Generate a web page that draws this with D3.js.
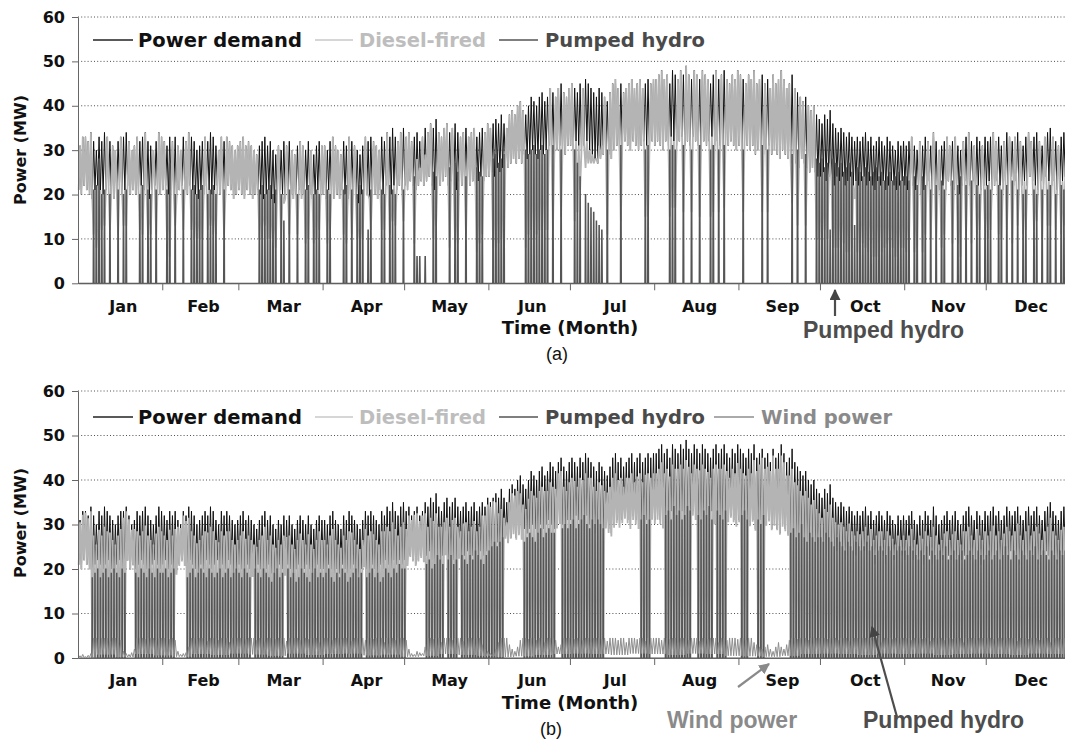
<!DOCTYPE html>
<html><head><meta charset="utf-8">
<script src="https://cdn.jsdelivr.net/npm/d3@7"></script>
<style>body{margin:0;background:#fff}svg{display:block}</style>
</head><body>
<svg id="chart" width="1065" height="747"></svg>
<script>
// ---------------- DATA ----------------
const months = ["Jan","Feb","Mar","Apr","May","Jun","Jul","Aug","Sep","Oct","Nov","Dec"];
const monthStarts = [0,31,59,90,120,151,181,212,243,273,304,334,365];
const yTicks = [0,10,20,30,40,50,60];
const seriesNames = ["Power demand","Diesel-fired","Pumped hydro","Wind power"];

// daily peak of power demand (MW)
const demandPeak = [
 31,33,33,32,34,32,30,33,32,34,33,32,31,30,32,33,33,34,32,30,31,33,32,33,34,32,31,30,32,34,33,
 32,31,33,32,33,31,30,33,32,34,33,32,30,31,32,33,32,34,33,31,30,33,32,33,32,31,30,31,
 32,33,31,32,31,30,29,31,32,33,31,32,30,29,31,30,32,31,32,30,29,31,32,31,30,32,30,29,31,32,31,
 31,30,32,33,31,30,29,32,31,33,32,31,30,29,31,33,32,33,32,31,30,33,32,34,33,35,33,32,34,35,
 33,34,32,33,34,32,33,35,34,36,35,37,34,33,35,36,34,35,36,34,33,34,35,33,34,35,33,34,35,34,36,
 35,36,37,36,38,36,35,38,39,38,40,41,39,38,40,42,41,40,42,43,41,42,44,43,42,44,45,43,42,44,
 45,44,43,45,44,46,45,44,43,42,44,43,42,41,43,45,46,44,45,43,44,45,46,44,45,46,44,45,46,45,46,
 46,47,48,46,47,45,48,47,46,48,47,49,47,46,48,47,46,48,47,46,45,47,48,46,47,48,46,45,47,46,48,
 47,46,45,47,46,48,45,46,47,45,46,44,47,45,46,48,46,44,45,47,44,43,42,41,42,40,39,40,38,37,
 36,38,37,39,36,35,34,35,34,33,34,33,32,33,32,33,34,32,33,31,32,33,32,31,33,32,31,30,32,31,32,
 31,32,33,31,30,32,31,33,32,31,34,32,30,31,32,33,31,32,33,31,30,32,33,34,32,31,33,32,31,33,
 32,33,34,32,33,31,32,34,33,32,33,34,32,31,33,34,32,33,34,32,31,33,34,35,33,32,31,33,34,33,34
];
// daily night-time low of power demand (MW)
const demandLow = [
 21,20,22,21,20,19,21, 22,21,20,21,22,20,19, 21,22,20,21,22,20,21, 20,21,22,21,20,19,21, 22,21,20,
 21,22,20,21,20,19,21, 22,21,20,22,21,20,19, 21,20,22,21,20,21,22, 20,21,20,22,21,19,20,
 21,20,19,21,20,19,20, 21,20,19,20,21,19,18, 20,21,20,19,21,20,19, 20,21,19,20,21,20,19, 20,21,20,
 20,19,21,20,19,20,19, 21,20,19,20,21,19,18, 20,21,20,19,21,20,19, 21,20,22,21,20,22,21, 22,21,
 22,21,23,22,21,22,23, 22,23,24,22,21,23,22, 23,24,22,23,22,21,23, 22,23,24,22,23,22,23, 24,23,24,
 24,25,24,26,25,26,27, 26,27,28,27,28,27,29, 28,29,30,29,28,30,29, 30,31,30,29,30,31,30, 29,31,
 31,30,32,31,30,31,32, 30,29,28,27,28,29,30, 29,28,30,31,30,31,32, 31,30,32,31,30,31,32, 31,30,32,
 31,32,31,30,32,31,33, 32,31,32,33,31,32,31, 33,32,31,30,32,31,32, 33,31,32,31,30,32,31, 32,31,30,
 31,30,32,31,30,31,29, 30,31,29,30,31,29,30, 29,28,30,29,28,27,28, 27,26,28,27,26,25,26, 25,24,
 24,25,23,24,23,22,24, 23,24,22,23,24,22,23, 22,23,24,22,23,22,21, 23,22,23,21,22,23,22, 21,22,23,
 22,21,23,22,21,22,20, 21,22,23,21,22,20,21, 22,21,23,22,21,22,20, 22,23,21,22,23,21,22, 21,22,
 22,23,21,22,23,22,21, 23,22,24,22,23,21,22, 23,22,24,23,22,21,23, 22,24,23,22,23,21,22, 23,24,22
];
// (a) pumped hydro output events: [day, MW]
const phEventsA = [
 [5,21],[6,22],[7,28],[8,20],[9,21],[11,20],[14,21],[16,20],[17,21],[22,20],[23,22],[25,21],[26,20],[28,21],
 [32,21],[33,27],[35,20],[38,21],[41,21],[42,22],[43,20],[44,21],[45,22],[47,20],[48,21],[49,22],[50,20],[53,21],
 [66,21],[67,22],[68,20],[69,21],[70,22],[71,20],[72,21],[74,20],[75,14],[77,21],[80,20],[83,21],[84,22],[86,20],[87,21],[88,20],
 [91,21],[92,20],[97,21],[98,22],[100,21],[102,20],[103,22],[104,21],[106,12],[107,21],[111,21],[112,20],[114,22],[115,21],[116,20],[119,21],
 [123,24],[124,6],[125,6],[127,6],[130,25],[131,24],[136,26],[138,27],[139,25],[142,24],[146,26],[147,25],[148,24],
 [152,28],[153,29],[154,27],[155,28],[156,29],[164,30],[165,29],[166,30],[167,31],[168,29],[169,30],[170,31],[171,29],[172,30],[174,31],[177,30],
 [182,30],[183,27],[184,24],[186,20],[187,18],[188,17],[189,16],[190,14],[191,13],[192,12],[194,30],[199,31],[208,30],[209,31],
 [217,30],[218,31],[219,30],[222,31],[225,30],[228,31],[232,30],[233,31],[235,30],[237,31],
 [244,30],[251,31],[253,30],[262,29],[264,30],[267,29],[271,28],
 [272,27],[273,28],[274,26],[275,27],[276,12],[277,28],[278,27],[279,26],[280,27],[281,25],[282,26],[283,27],[284,25],[285,13],[286,26],[287,25],
 [288,24],[289,26],[290,25],[291,24],[292,25],[293,26],[294,24],[295,25],[296,23],[297,24],[298,25],[299,23],[300,24],[301,25],[302,23],[303,24],
 [304,24],[305,23],[307,24],[308,22],[310,24],[311,22],[313,21],[315,22],[317,23],[318,21],
 [321,23],[323,22],[324,24],[326,22],[328,23],[330,22],[331,20],[333,21],
 [334,22],[335,21],[338,22],[339,21],[341,22],[343,23],[345,21],[347,20],[348,21],
 [351,21],[352,20],[354,21],[356,21],[357,22],[359,20],[361,22],[362,21],[364,22]
];
// (b) pumped hydro output per day (MW, 0 = idle)
const phDailyB = [
 0,0,0,0,0,18,19,20,18,19,20,18,19,20,19,18,20,19,0,0,0,19,18,20,19,18,20,19,18,20,19,
 19,20,18,19,20,0,0,0,0,18,19,20,18,19,20,19,18,20,19,18,19,20,18,19,20,18,19,20,
 19,18,20,19,18,0,20,19,18,20,19,18,17,19,20,18,19,0,20,18,19,17,18,20,19,18,17,19,20,18,19,
 18,19,20,18,17,19,18,20,19,17,18,19,20,18,19,0,18,19,20,18,19,17,18,20,19,18,20,19,21,20,
 20,0,0,0,0,0,0,0,21,22,20,21,23,22,21,0,22,23,21,22,0,23,22,21,23,22,24,23,22,21,23,
 24,25,26,25,26,27,0,0,0,0,0,0,0,26,27,28,27,26,28,29,27,28,29,28,28,0,0,29,30,29,
 30,31,29,30,31,32,30,29,31,30,31,30,29,0,0,0,0,0,0,0,0,0,0,0,0,0,31,32,30,31,0,
 0,0,0,0,32,33,31,34,32,33,31,32,34,33,0,0,32,31,33,32,34,31,0,33,32,31,33,0,0,0,0,
 0,32,33,31,0,0,0,31,30,32,0,0,0,0,0,0,0,0,0,28,29,27,28,30,27,26,28,27,26,27,
 27,26,28,27,26,25,27,26,25,24,26,25,24,26,25,24,25,26,24,25,23,24,25,24,23,25,24,23,24,25,24,
 24,23,25,24,23,22,24,23,25,22,24,23,22,24,23,25,22,23,24,22,23,24,22,23,24,23,22,24,23,22,
 23,24,22,23,24,22,23,25,23,22,24,23,22,24,23,22,24,23,25,22,23,24,23,22,24,23,22,24,23,24,23
];
// (b) daily peak wind power (MW)
const windPeak = [
 0.5,0.8,0.3,0.6,1.0,4.5,4.5,4.2,4.5,4.5,4.5,3.8,4.5,4.5,4.5,4.0,1.5,1.0,0.8,1.2,2.0,4.5,4.5,4.5,4.2,4.5,4.5,4.5,4.0,4.5,4.5,
 4.5,4.5,4.2,4.5,4.0,1.5,0.8,1.0,1.2,2.5,4.5,4.5,4.2,4.5,4.5,4.5,3.8,4.5,4.5,4.5,4.0,4.5,4.5,4.5,3.5,4.5,4.5,4.5,
 4.5,4.5,4.2,4.5,4.5,4.5,4.0,4.5,4.5,3.5,4.5,4.5,4.5,4.2,4.5,4.5,4.5,3.8,4.5,4.5,4.5,4.5,4.0,4.5,4.5,4.2,4.5,4.5,4.5,3.5,4.5,
 4.5,4.5,4.5,4.0,4.5,4.5,4.2,4.5,4.5,4.5,3.8,4.5,4.5,4.5,4.5,4.0,4.5,4.5,4.2,4.5,4.5,4.5,3.5,4.5,4.5,4.5,4.0,4.5,4.5,4.5,
 4.0,2.0,1.0,0.8,1.5,1.2,1.0,2.5,4.5,4.5,4.2,4.5,4.5,3.5,4.5,4.5,4.5,4.0,4.5,4.5,4.5,3.8,4.5,4.5,4.5,4.2,4.5,4.5,3.0,2.0,1.5,
 1.0,0.8,2.0,3.5,4.5,4.5,4.5,3.0,2.0,1.5,2.5,4.0,4.5,4.5,4.2,4.5,4.5,4.0,4.5,4.5,3.5,4.5,4.5,4.5,4.0,2.5,3.0,4.5,4.5,4.5,
 4.5,4.2,4.5,4.5,4.0,4.5,4.5,3.5,4.5,4.5,4.5,4.2,4.5,3.8,4.5,4.5,4.5,4.0,4.5,4.5,3.5,4.5,4.5,4.5,4.2,4.5,4.5,3.8,4.5,4.5,4.5,
 4.5,4.5,4.0,4.5,4.5,4.2,4.5,4.5,3.5,4.5,4.5,4.5,4.0,4.5,4.5,4.5,3.8,4.5,4.5,4.2,4.5,4.5,4.5,3.5,4.5,4.5,4.0,4.5,4.5,4.5,4.2,
 4.5,4.5,4.0,4.5,4.5,3.5,3.0,2.5,2.0,2.5,3.0,2.0,1.5,2.5,3.5,2.5,2.0,3.0,4.0,4.5,4.5,4.2,4.5,4.5,4.5,4.0,4.5,4.5,4.5,4.5,
 4.5,4.5,4.2,4.5,4.5,4.5,4.0,4.5,4.5,4.5,3.8,4.5,4.5,4.5,4.2,4.5,4.5,4.5,4.0,4.5,4.5,4.5,3.5,4.5,4.5,4.5,4.2,4.5,4.5,4.5,4.5,
 4.5,4.5,4.0,4.5,4.5,4.5,4.2,4.5,4.5,3.8,4.5,4.5,4.5,4.5,4.0,4.5,4.5,4.2,4.5,4.5,4.5,3.5,4.5,4.5,4.5,4.5,4.0,4.5,4.5,4.5,
 4.5,4.5,4.2,4.5,4.5,4.5,4.0,4.5,4.5,4.5,4.5,3.8,4.5,4.5,4.5,4.2,4.5,4.5,4.5,4.0,4.5,4.5,4.5,3.5,4.5,4.5,4.5,4.2,4.5,4.5,4.5
];
// (b) weekly low of wind power (MW)
const windLowWeekly = [
 0.1,0.8,0.2,0.9,0.6, 0.3,0.9,0.7,1.0, 0.8,0.5,1.0,0.7, 0.9,1.0,0.6,0.8, 0.3,0.5,0.9,0.7,0.5, 0.2,0.4,0.7,0.9,
 1.0,0.9,0.7,1.0, 0.9,0.7,1.0,0.9,0.5, 0.4,0.3,0.5,0.9, 1.0,0.9,0.7,1.0,0.9, 1.0,0.7,0.9,1.0, 0.9,0.7,1.0,0.9,0.6
];

// ---------------- BUILD SERIES ----------------
const nDays = demandPeak.length;
const phA = new Array(nDays).fill(0);
phEventsA.forEach(([d,v]) => { phA[d] = v; });
const wLowAt = d => windLowWeekly[Math.floor(d/7)];

const demandPts = [], dieselA = [], phAPts = [[0,0]], dieselB = [], windB = [], phBPts = [[0,0]];
for (let d = 0; d < nDays; d++) {
  const lo = demandLow[d], pk = demandPeak[d];
  demandPts.push([d+0.25, lo], [d+0.75, pk]);
  // panel (a): pumped hydro discharges at the evening peak, diesel covers the rest
  dieselA.push([d+0.25, lo], [d+0.75, Math.max(0, pk - phA[d])]);
  if (phA[d] > 0) phAPts.push([d+0.56,0],[d+0.68,phA[d]],[d+0.82,phA[d]],[d+0.94,0]);
  // panel (b): wind + pumped hydro, diesel covers the rest
  const wl = wLowAt(d), wp = windPeak[d], pb = phDailyB[d];
  windB.push([d+0.25, wl], [d+0.75, wp]);
  dieselB.push([d+0.25, Math.max(0, lo - wl - pb)], [d+0.75, Math.max(0, pk - wp)]);
  if (pb > 0) phBPts.push([d+0.1,0],[d+0.2,pb],[d+0.3,pb],[d+0.4,0]);
}
phAPts.push([nDays,0]); phBPts.push([nDays,0]);

// ---------------- DRAW ----------------
const svg = d3.select("#chart");
const x = d3.scaleLinear().domain([0,365]).range([78,1070]);
const LEFT = 78, RIGHT = 1065;
const colors = {demand:"#111111", diesel:"#b4b4b4", ph:"#555555", wind:"#8e8e8e"};
const monthMids = months.map((m,i) => (monthStarts[i]+monthStarts[i+1])/2 + 1);

function drawPanel(cfg) {
  const y = d3.scaleLinear().domain([0,60]).range([cfg.y0, cfg.y60]);
  const g = svg.append("g");
  g.selectAll("line.grid").data(yTicks.slice(1)).join("line")
    .attr("x1", LEFT).attr("x2", RIGHT).attr("y1", d=>y(d)).attr("y2", d=>y(d))
    .attr("stroke","#3a3a3a").attr("stroke-width",0.9).attr("stroke-dasharray","1,2.2");
  const line = d3.line().x(p=>x(p[0])).y(p=>y(p[1]));
  g.append("path").datum(demandPts).attr("d", line).attr("fill","none")
    .attr("stroke", colors.demand).attr("stroke-width", 1);
  g.append("path").datum(cfg.diesel).attr("d", line).attr("fill","none")
    .attr("stroke", colors.diesel).attr("stroke-width", 1.8);
  g.append("path").datum(cfg.ph).attr("d", line).attr("fill","none")
    .attr("stroke", colors.ph).attr("stroke-width", 1.2);
  if (cfg.wind) g.append("path").datum(cfg.wind).attr("d", line).attr("fill","none")
    .attr("stroke", colors.wind).attr("stroke-width", 1.0);

  const yAxis = d3.axisLeft(y).tickValues(yTicks).tickSize(6).tickSizeOuter(0).tickPadding(7);
  const ya = g.append("g").attr("transform", `translate(${LEFT},0)`).call(yAxis);
  ya.select(".domain").attr("stroke","#666");
  ya.selectAll(".tick line").attr("stroke","#666");
  ya.selectAll("text").attr("font-family","DejaVu Sans").attr("font-weight","bold")
    .attr("font-size","16px").attr("fill","#111");

  const xAxis = d3.axisBottom(x).tickValues(monthStarts.slice(1,12)).tickSize(7).tickSizeOuter(0).tickFormat("");
  const xa = g.append("g").attr("transform", `translate(0,${cfg.y0})`).call(xAxis);
  xa.select(".domain").attr("stroke","#666");
  xa.selectAll(".tick line").attr("stroke","#666");

  const xLab = d3.axisBottom(x).tickValues(monthMids).tickSize(0).tickPadding(17)
    .tickFormat((d,i)=>months[i]);
  const xl = g.append("g").attr("transform", `translate(0,${cfg.y0})`).call(xLab);
  xl.select(".domain").remove();
  xl.selectAll("text").attr("font-family","DejaVu Sans").attr("font-weight","bold")
    .attr("font-size","16px").attr("fill","#111");

  g.append("text").attr("transform", `translate(26,${cfg.yTitle}) rotate(-90)`)
    .attr("text-anchor","middle").attr("font-family","DejaVu Sans").attr("font-weight","bold")
    .attr("font-size","16px").attr("fill","#111").text("Power (MW)");
  g.append("text").attr("x",570).attr("y",cfg.y0+51).attr("text-anchor","middle")
    .attr("font-family","DejaVu Sans").attr("font-weight","bold").attr("font-size","18px")
    .attr("fill","#111").text("Time (Month)");
  g.append("text").attr("x",cfg.capX).attr("y",cfg.y0+77).attr("text-anchor","middle")
    .attr("font-family","Liberation Sans").attr("font-size","18px").attr("fill","#111").text(cfg.caption);

  const leg = g.append("g");
  cfg.legend.forEach(it => {
    leg.append("line").attr("x1",it.x0).attr("x2",it.x1).attr("y1",cfg.legY).attr("y2",cfg.legY)
      .attr("stroke",it.color).attr("stroke-width",1.5);
    leg.append("text").attr("x",it.tx).attr("y",cfg.legY+7).attr("font-family","DejaVu Sans")
      .attr("font-weight","bold").attr("font-size","19.5px").attr("fill",it.tc).text(it.name);
  });
  return {g, y};
}

const legA = [
  {name:seriesNames[0], color:"#222", tc:"#111", x0:93, x1:133, tx:138},
  {name:seriesNames[1], color:"#c8c8c8", tc:"#bdbdbd", x0:315, x1:353, tx:359},
  {name:seriesNames[2], color:"#555", tc:"#4a4a4a", x0:499, x1:538, tx:545}
];
const legB = legA.concat([{name:seriesNames[3], color:"#8e8e8e", tc:"#8a8a8a", x0:714, x1:754, tx:761}]);

drawPanel({y0:283.3, y60:17, diesel:dieselA, ph:phAPts, wind:null, legend:legA, legY:40,
  yTitle:150, caption:"(a)", capX:557});
drawPanel({y0:658, y60:391, diesel:dieselB, ph:phBPts, wind:windB, legend:legB, legY:417,
  yTitle:523, caption:"(b)", capX:551});

const defs = svg.append("defs");
[["arrDark","#444"],["arrGray","#8a8a8a"]].forEach(([id,c]) => {
  defs.append("marker").attr("id",id).attr("viewBox","0 0 10 10").attr("refX",9).attr("refY",5)
    .attr("markerWidth",5).attr("markerHeight",5).attr("orient","auto")
    .append("path").attr("d","M0,0L10,5L0,10z").attr("fill",c);
});
function annot(text, tx, ty, color, ax1, ay1, ax2, ay2, marker) {
  svg.append("line").attr("x1",ax1).attr("y1",ay1).attr("x2",ax2).attr("y2",ay2)
    .attr("stroke",color).attr("stroke-width",2.2).attr("marker-end",`url(#${marker})`);
  svg.append("text").attr("x",tx).attr("y",ty).attr("font-family","Liberation Sans")
    .attr("font-weight","bold").attr("font-size","23px").attr("fill",color).text(text);
}
annot("Pumped hydro", 803, 338, "#4d4d4d", 835, 316, 835, 290, "arrDark");
annot("Wind power", 667, 728, "#8a8a8a", 738, 687, 769, 664, "arrGray");
annot("Pumped hydro", 863, 728, "#4d4d4d", 897, 717, 872, 627, "arrDark");
</script>
</body></html>
